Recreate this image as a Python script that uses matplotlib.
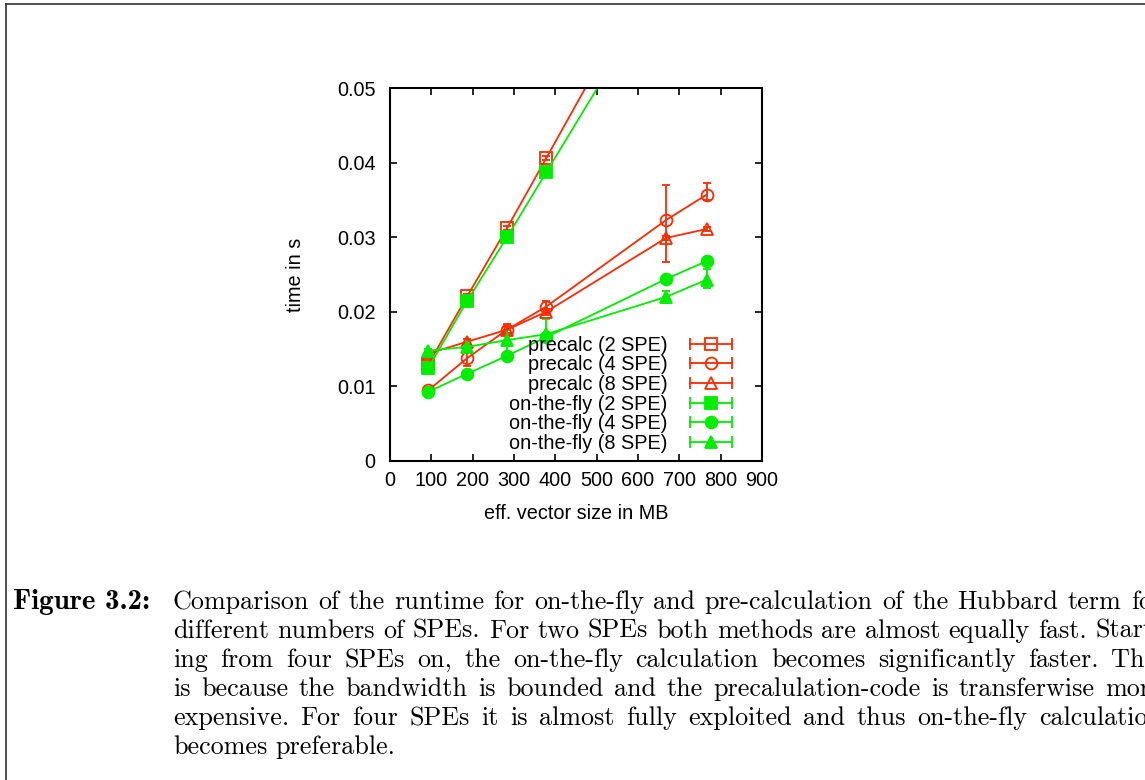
import matplotlib
matplotlib.use("Agg")
import matplotlib.pyplot as plt
from matplotlib.lines import Line2D
from matplotlib.legend_handler import HandlerLine2D

# vector sizes (MB) and runtimes (s)
sizes = [93, 187, 283, 378, 668, 766]

pre2 = [0.0130, 0.0221, 0.0312, 0.0406, 0.0694, 0.0790]
pre2_lo = [0.0127, 0.0218, 0.0309, 0.0403, 0.0690, 0.0786]
pre2_hi = [0.0133, 0.0224, 0.0315, 0.0409, 0.0698, 0.0794]

pre4 = [0.0095, 0.0138, 0.0176, 0.0207, 0.0323, 0.0357]
pre4_lo = [0.0093, 0.0127, 0.0170, 0.0200, 0.0267, 0.0350]
pre4_hi = [0.0097, 0.0146, 0.0183, 0.0215, 0.0370, 0.0373]

pre8 = [0.0144, 0.0160, 0.0176, 0.0200, 0.0299, 0.0311]
pre8_lo = [0.0142, 0.0157, 0.0172, 0.0196, 0.0296, 0.0308]
pre8_hi = [0.0146, 0.0163, 0.0180, 0.0204, 0.0302, 0.0314]

fly2 = [0.0125, 0.0215, 0.0300, 0.0387, 0.0652, 0.0741]
fly2_lo = [0.0123, 0.0213, 0.0298, 0.0385, 0.0650, 0.0739]
fly2_hi = [0.0127, 0.0217, 0.0302, 0.0389, 0.0654, 0.0743]

fly4 = [0.0093, 0.0117, 0.0141, 0.0166, 0.0244, 0.0268]
fly4_lo = [0.0092, 0.0116, 0.0140, 0.0165, 0.0243, 0.0267]
fly4_hi = [0.0094, 0.0118, 0.0142, 0.0167, 0.0245, 0.0269]

fly8 = [0.0148, 0.0153, 0.0162, 0.0170, 0.0220, 0.0243]
fly8_lo = [0.0146, 0.0150, 0.0146, 0.0160, 0.0212, 0.0232]
fly8_hi = [0.0150, 0.0156, 0.0176, 0.0190, 0.0228, 0.0257]

labels = ["precalc (2 SPE)", "precalc (4 SPE)", "precalc (8 SPE)",
          "on-the-fly (2 SPE)", "on-the-fly (4 SPE)", "on-the-fly (8 SPE)"]

x_ticks = [0, 100, 200, 300, 400, 500, 600, 700, 800, 900]
y_ticks = [0, 0.01, 0.02, 0.03, 0.04, 0.05]
y_ticklabels = ["0", "0.01", "0.02", "0.03", "0.04", "0.05"]

caption_head = "Figure 3.2:"
caption_lines = [
    "Comparison of the runtime for on-the-fly and pre-calculation of the Hubbard term for",
    "different numbers of SPEs. For two SPEs both methods are almost equally fast. Start-",
    "ing from four SPEs on, the on-the-fly calculation becomes significantly faster. This",
    "is because the bandwidth is bounded and the precalulation-code is transferwise more",
    "expensive. For four SPEs it is almost fully exploited and thus on-the-fly calculation",
    "becomes preferable.",
]

RED = "#ff2a00"
GREEN = "#00ee00"
FS = 14.3

plt.rcParams["font.family"] = ["Liberation Sans", "DejaVu Sans"]

fig = plt.figure(figsize=(11.45, 7.8), dpi=100)
ax = fig.add_axes([390 / 1145, 1 - 461 / 780, 372 / 1145, 373 / 780])

series = [
    (pre2, pre2_lo, pre2_hi, RED, "s", "none"),
    (pre4, pre4_lo, pre4_hi, RED, "o", "none"),
    (pre8, pre8_lo, pre8_hi, RED, "^", "none"),
    (fly2, fly2_lo, fly2_hi, GREEN, "s", GREEN),
    (fly4, fly4_lo, fly4_hi, GREEN, "o", GREEN),
    (fly8, fly8_lo, fly8_hi, GREEN, "^", GREEN),
]

handles = []
hmap = {}
for (y, lo, hi, col, mk, fc), lab in zip(series, labels):
    err = [[v - l for v, l in zip(y, lo)], [h - v for v, h in zip(y, hi)]]
    ms = 8.5 if mk != "^" else 9
    ax.errorbar(sizes, y, yerr=err, color=col, lw=1.3, elinewidth=1.3,
                capsize=3, capthick=1.3, marker=mk, ms=ms, mfc=fc,
                mec=col, mew=1.3)
    # legend sample: line with caps at both ends, marker in the middle
    cap = Line2D([], [], color=col, lw=1.3, marker="|", ms=8, mew=1.3)
    dot = Line2D([], [], color=col, ls="none", marker=mk, ms=ms, mfc=fc,
                 mec=col, mew=1.3)
    hmap[cap] = HandlerLine2D(numpoints=2)
    handles.append((cap, dot))

ax.set_xlim(0, 900)
ax.set_ylim(0, 0.05)
ax.set_xticks(x_ticks)
ax.set_yticks(y_ticks)
ax.set_yticklabels(y_ticklabels)
ax.tick_params(direction="in", top=True, right=True, length=5, width=1.2,
               labelsize=FS)
ax.tick_params(axis="x", pad=7)
ax.tick_params(axis="y", pad=10.5)
for sp in ax.spines.values():
    sp.set_linewidth(1.5)

ax.set_xlabel("eff. vector size in MB", fontsize=FS, labelpad=10)
ax.set_ylabel("time in s", fontsize=FS, labelpad=23)

ax.legend(handles, labels, handler_map=hmap, loc="lower right",
          bbox_to_anchor=(0.957, 0.0), frameon=False, fontsize=FS,
          markerfirst=False, handlelength=2.7, handletextpad=0.85,
          labelspacing=0.035, borderaxespad=0.0)

# page frame
fig.add_artist(Line2D([6 / 1145, 1], [1 - 4 / 780, 1 - 4 / 780],
                      color="#333333", lw=1.2, transform=fig.transFigure))
fig.add_artist(Line2D([6 / 1145, 6 / 1145], [0, 1 - 4 / 780],
                      color="#333333", lw=1.2, transform=fig.transFigure))

# caption, justified to the text width
cap_size = 18.8
fig.text(13 / 1145, 1 - 609 / 780, caption_head, family="cmb10",
         fontsize=20.8, va="baseline")
renderer = fig.canvas.get_renderer()
left_px, right_px = 173, 1162
space_px = 8
for i, line in enumerate(caption_lines):
    yb = 1 - (609 + 29 * i) / 780
    words = line.split(" ")
    arts = [fig.text(0, yb, w, family="cmr10", fontsize=cap_size,
                     va="baseline") for w in words]
    widths = [a.get_window_extent(renderer).width for a in arts]
    if i < len(caption_lines) - 1:
        gap = (right_px - left_px - sum(widths)) / (len(words) - 1)
    else:
        gap = space_px
    xpos = left_px
    for a, w in zip(arts, widths):
        a.set_x(xpos / 1145)
        xpos += w + gap

fig.savefig("out.png", dpi=100)
